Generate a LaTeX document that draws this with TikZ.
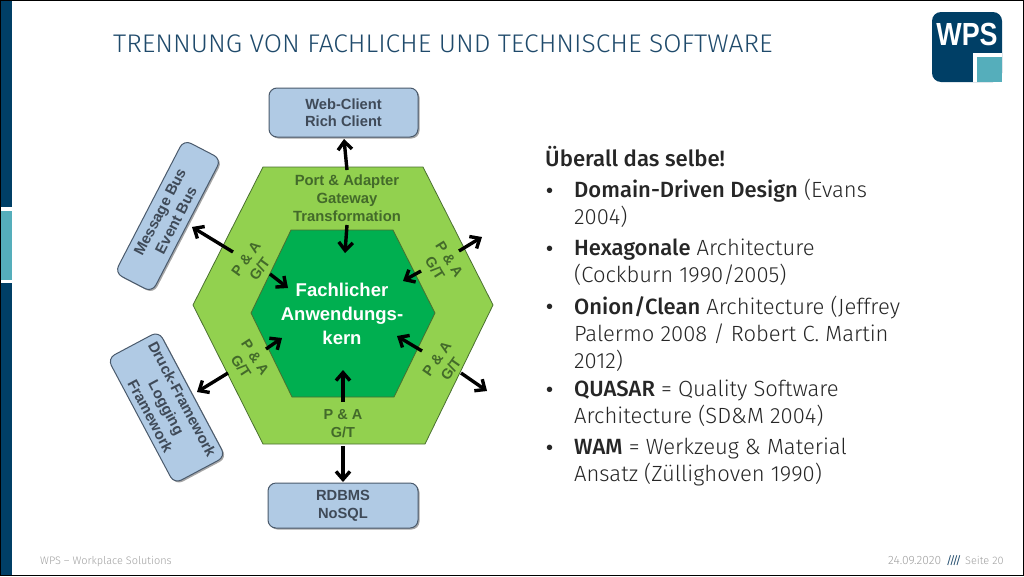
\documentclass[tikz,border=0pt]{standalone}
\usepackage{fontspec}
\setmainfont{Liberation Sans}
\newfontfamily\slidefont{Fira Sans Light}
\newfontfamily\slidebold{Fira Sans}[BoldFont={Fira Sans Medium}]
\usetikzlibrary{arrows.meta,shadows}
\definecolor{navy}{HTML}{003F66}
\definecolor{tealc}{HTML}{55AEBB}
\definecolor{lightgreen}{HTML}{92D14F}
\definecolor{darkgreen}{HTML}{00AF50}
\definecolor{edgegreen}{HTML}{4A7030}
\definecolor{boxblue}{HTML}{B0CAE4}
\definecolor{boxedge}{HTML}{4A5A6C}
\definecolor{boxtext}{HTML}{3F4A58}
\definecolor{labelgreen}{HTML}{436A2A}
\definecolor{bodytext}{HTML}{262626}
\definecolor{titletext}{HTML}{1F4A6B}
\definecolor{foot}{HTML}{A0A0A0}
\tikzset{
  x=1pt,y=-1pt,
  hexline/.style={draw=edgegreen,line width=.8pt,line join=miter},
  svcbox/.style={draw=boxedge,fill=boxblue,line width=1pt,rounded corners=8pt,align=center,
    inner sep=0pt,text=boxtext,font=\fontsize{14.7}{18}\selectfont\bfseries,
    drop shadow={shadow xshift=1.5pt,shadow yshift=-1.5pt,opacity=.35,fill=black}},
  conn/.style={draw=black,line width=3.4pt,-{Straight Barb[length=8pt,width=14pt,line width=3.4pt]}},
  portlabel/.style={align=center,inner sep=0pt,text=labelgreen,font=\fontsize{14.8}{18}\selectfont\bfseries},
  smalllabel/.style={align=center,inner sep=0pt,text=labelgreen,font=\fontsize{14.5}{17}\selectfont\bfseries},
  bullet/.style={inner sep=0pt,align=left,text=bodytext,anchor=north west,
    font=\fontsize{22}{27}\slidefont},
  dot/.style={anchor=base west,inner sep=0pt,text=bodytext,font=\fontsize{20}{27}\selectfont},
  footer/.style={anchor=base west,inner sep=0pt,text=foot,font=\fontsize{10.9}{12}\slidefont}
}
\newcommand{\hl}[1]{{\slidebold\bfseries #1}}
\begin{document}
\begin{tikzpicture}
\useasboundingbox (0,0) rectangle (1024,576);
\fill[white] (0,0) rectangle (1024,576);
% side bar
\fill[navy] (1,1) rectangle (12,207);
\fill[tealc] (1,211) rectangle (12,280);
\fill[navy] (1,283) rectangle (12,575);
\draw[black,line width=1pt] (0.5,0.5) rectangle (1023.5,575.5);
% logo
\fill[navy,rounded corners=9pt] (932,12) rectangle (1002,82);
\fill[white] (973,53) rectangle (1002,82);
\fill[tealc] (977,57) rectangle (1002,82);
\node[inner sep=0pt,text=white,font=\fontsize{32}{32}\selectfont\bfseries,xscale=.84] (logo) at (967,34) {WPS};
% title
\node[anchor=base west,inner sep=0pt,text=titletext,xscale=1.036,font=\fontsize{25.5}{28}\slidefont] (title) at (113,52) {TRENNUNG VON FACHLICHE UND TECHNISCHE SOFTWARE};
% hexagons
\path[hexline,fill=lightgreen] (263,167) -- (423,167) -- (493,305) -- (425,444) -- (263,444) -- (193,305) -- cycle;
\path[hexline,fill=darkgreen] (291,230) -- (393,230) -- (435,313) -- (394,397) -- (292,397) -- (251,313) -- cycle;
% boxes
\node[svcbox,minimum width=149pt,minimum height=49pt] (web) at (343.5,112.5) {Web-Client\\[-1pt]Rich Client};
\node[svcbox,minimum width=150pt,minimum height=45pt] (db) at (343,505.5) {RDBMS\\NoSQL};
\node[svcbox,font=\fontsize{15}{18}\selectfont\bfseries,minimum width=150pt,minimum height=42pt,rotate=62.6] (bus) at (168,216) {Message Bus\\Event Bus};
\node[svcbox,font=\fontsize{15}{18}\selectfont\bfseries,minimum width=142pt,minimum height=58pt,rotate=-62] (print) at (166.5,407.5) {Druck-Framework\\Logging\\Framework};
% core text
\node[align=center,inner sep=0pt,text=white,font=\fontsize{18.5}{24}\selectfont\bfseries] (core) at (342,314) {Fachlicher\\Anwendungs-\\kern};
% port labels
\node[portlabel] (top) at (347,198) {Port \& Adapter\\Gateway\\Transformation};
\node[smalllabel,rotate=54] (ul) at (253,264) {P \& A\\G/T};
\node[smalllabel,rotate=-58] (ur) at (442,264) {P \& A\\G/T};
\node[smalllabel,rotate=-57] (ll) at (248,362) {P \& A\\G/T};
\node[smalllabel,rotate=55] (lr) at (444,364) {P \& A\\G/T};
\node[smalllabel,font=\fontsize{14.5}{18}\selectfont\bfseries] (bot) at (343,424) {P \& A\\G/T};
% connector ends
\coordinate (a1) at (347,170); \coordinate (a2) at (344,139);
\coordinate (b1) at (347,225); \coordinate (b2) at (345,253);
\coordinate (c1) at (233,252); \coordinate (c2) at (192,227);
\coordinate (d1) at (270,274); \coordinate (d2) at (288,288);
\coordinate (e1) at (459,251); \coordinate (e2) at (482,237);
\coordinate (f1) at (421,271); \coordinate (f2) at (403,281);
\coordinate (g1) at (266,349); \coordinate (g2) at (282,338);
\coordinate (h1) at (228,373); \coordinate (h2) at (197,392);
\coordinate (i1) at (422,351); \coordinate (i2) at (397,336);
\coordinate (j1) at (461,373); \coordinate (j2) at (487,391);
\coordinate (k1) at (343,402); \coordinate (k2) at (343,370);
\coordinate (l1) at (343,446); \coordinate (l2) at (343,482);
\foreach \s/\t in {a1/a2,b1/b2,c1/c2,d1/d2,e1/e2,f1/f2,g1/g2,h1/h2,i1/i2,j1/j2,k1/k2,l1/l2}
  \draw[conn] (\s) -- (\t);
% text column
\node[dot,font=\fontsize{22.2}{27}\slidebold\bfseries] (head) at (545,166) {Überall das selbe!};
\node[dot] (d1b) at (546,197) {•};
\node[bullet] (t1) at (574,178) {\strut\hl{Domain-Driven Design} (Evans\\2004)};
\node[dot] (d2b) at (546,255) {•};
\node[bullet] (t2) at (574,236) {\strut\hl{Hexagonale} Architecture\\(Cockburn 1990/2005)};
\node[dot] (d3b) at (546,313) {•};
\node[bullet] (t3) at (574,295) {\strut\hl{Onion/Clean} Architecture (Jeffrey\\Palermo 2008 / Robert C. Martin\\2012)};
\node[dot] (d4b) at (546,396) {•};
\node[bullet] (t4) at (574,377) {\strut\hl{QUASAR} = Quality Software\\Architecture (SD\&M 2004)};
\node[dot] (d5b) at (546,454) {•};
\node[bullet] (t5) at (574,435) {\strut\hl{WAM} = Werkzeug \& Material\\Ansatz (Züllighoven 1990)};
% footer
\node[footer] (f1n) at (40,564) {WPS – Workplace Solutions};
\node[footer,font=\fontsize{12}{12}\slidefont] (f2n) at (888,564) {24.09.2020};
\node[footer,text=titletext,xscale=.72,font=\fontsize{11}{12}\slidebold\bfseries\itshape] (f3n) at (947,564) {////};
\node[footer] (f4n) at (965,564) {Seite 20};
\end{tikzpicture}
\end{document}
